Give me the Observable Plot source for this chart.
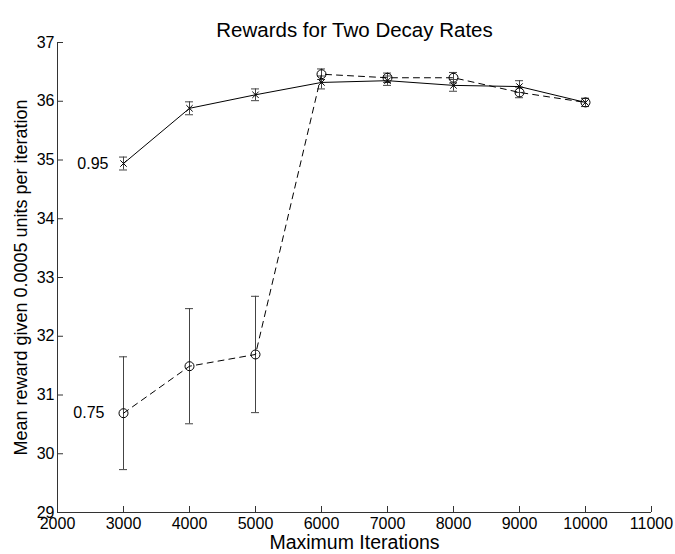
<!DOCTYPE html>
<html>
<head>
<meta charset="utf-8">
<script src="https://cdn.jsdelivr.net/npm/d3@7"></script>
<script src="https://cdn.jsdelivr.net/npm/@observablehq/plot@0.6"></script>
<style>
  html, body { margin: 0; padding: 0; background: #fff; }
  #chart svg { display: block; }
</style>
</head>
<body>
<div id="chart"></div>
<script>
const iterations = [3000, 4000, 5000, 6000, 7000, 8000, 9000, 10000];
const mean095 = [34.94, 35.88, 36.11, 36.32, 36.35, 36.27, 36.25, 35.98];
const err095  = [0.11, 0.11, 0.10, 0.11, 0.08, 0.10, 0.10, 0.07];
const mean075 = [30.69, 31.49, 31.69, 36.46, 36.40, 36.40, 36.15, 35.98];
const err075  = [0.96, 0.98, 0.99, 0.09, 0.08, 0.09, 0.09, 0.07];
const xTicks = [2000, 3000, 4000, 5000, 6000, 7000, 8000, 9000, 10000, 11000];
const yTicks = [29, 30, 31, 32, 33, 34, 35, 36, 37];
const seriesLabels = ["0.95", "0.75"];
const title = "Rewards for Two Decay Rates";
const xLabel = "Maximum Iterations";
const yLabel = "Mean reward given 0.0005 units per iteration";

const s95 = iterations.map((x, i) => ({x, y: mean095[i], e: err095[i]}));
const s75 = iterations.map((x, i) => ({x, y: mean075[i], e: err075[i]}));

const W = 675, H = 554;
const mL = 57, mR = 24, mT = 42, mB = 42;
const xDomain = [2000, 11000], yDomain = [29, 37];
// convert pixel lengths to data units for inward ticks and error-bar caps
const xPerPx = (xDomain[1] - xDomain[0]) / (W - mL - mR);
const yPerPx = (yDomain[1] - yDomain[0]) / (H - mT - mB);
const tickLen = 6;
const cap = 4 * xPerPx;
const font = "Liberation Sans, Arial, Helvetica, sans-serif";

function errorMarks(data) {
  return [
    Plot.ruleX(data, {x: "x", y1: d => d.y - d.e, y2: d => d.y + d.e, stroke: "#444", strokeWidth: 1}),
    Plot.ruleY(data, {y: d => d.y - d.e, x1: d => d.x - cap, x2: d => d.x + cap, stroke: "#444", strokeWidth: 1}),
    Plot.ruleY(data, {y: d => d.y + d.e, x1: d => d.x - cap, x2: d => d.x + cap, stroke: "#444", strokeWidth: 1})
  ];
}

const chart = Plot.plot({
  width: W, height: H,
  marginLeft: mL, marginRight: mR, marginTop: mT, marginBottom: mB,
  style: {fontFamily: font, background: "#fff", color: "#000"},
  x: {domain: xDomain},
  y: {domain: yDomain},
  marks: [
    Plot.axisX({ticks: xTicks, tickSize: 0, tickPadding: 5, fontSize: 16, label: null, tickFormat: d => String(d)}),
    Plot.axisY({ticks: yTicks, tickSize: 0, tickPadding: 3, fontSize: 16, label: null}),
    Plot.ruleX(xTicks, {x: d => d, y1: yDomain[0], y2: yDomain[0] + tickLen * yPerPx, stroke: "#333"}),
    Plot.ruleY(yTicks, {y: d => d, x1: xDomain[0], x2: xDomain[0] + tickLen * xPerPx, stroke: "#333"}),
    Plot.ruleX([xDomain[0]], {stroke: "#333"}),
    Plot.ruleY([yDomain[0]], {stroke: "#333"}),
    ...errorMarks(s95),
    ...errorMarks(s75),
    Plot.line(s95, {x: "x", y: "y", stroke: "#000", strokeWidth: 1}),
    Plot.line(s75, {x: "x", y: "y", stroke: "#000", strokeWidth: 1, strokeDasharray: "6,5"}),
    Plot.dot(s95, {x: "x", y: "y", symbol: "times", r: 3, stroke: "#000", strokeWidth: 1}),
    Plot.dot(s75, {x: "x", y: "y", symbol: "circle", r: 4.5, stroke: "#000", fill: "none", strokeWidth: 1}),
    Plot.text([s95[0]], {x: "x", y: "y", text: () => seriesLabels[0], textAnchor: "end", dx: -15, fontSize: 16}),
    Plot.text([s75[0]], {x: "x", y: "y", text: () => seriesLabels[1], textAnchor: "end", dx: -19, fontSize: 16}),
    Plot.text([title], {frameAnchor: "top", dy: -20, fontSize: 20.5, text: d => d}),
    Plot.text([xLabel], {frameAnchor: "bottom", dy: 36, fontSize: 19.5, text: d => d}),
    Plot.text([yLabel], {frameAnchor: "left", dx: -36, rotate: -90, textAnchor: "middle", fontSize: 18, text: d => d})
  ]
});
document.getElementById("chart").appendChild(chart);
</script>
</body>
</html>
